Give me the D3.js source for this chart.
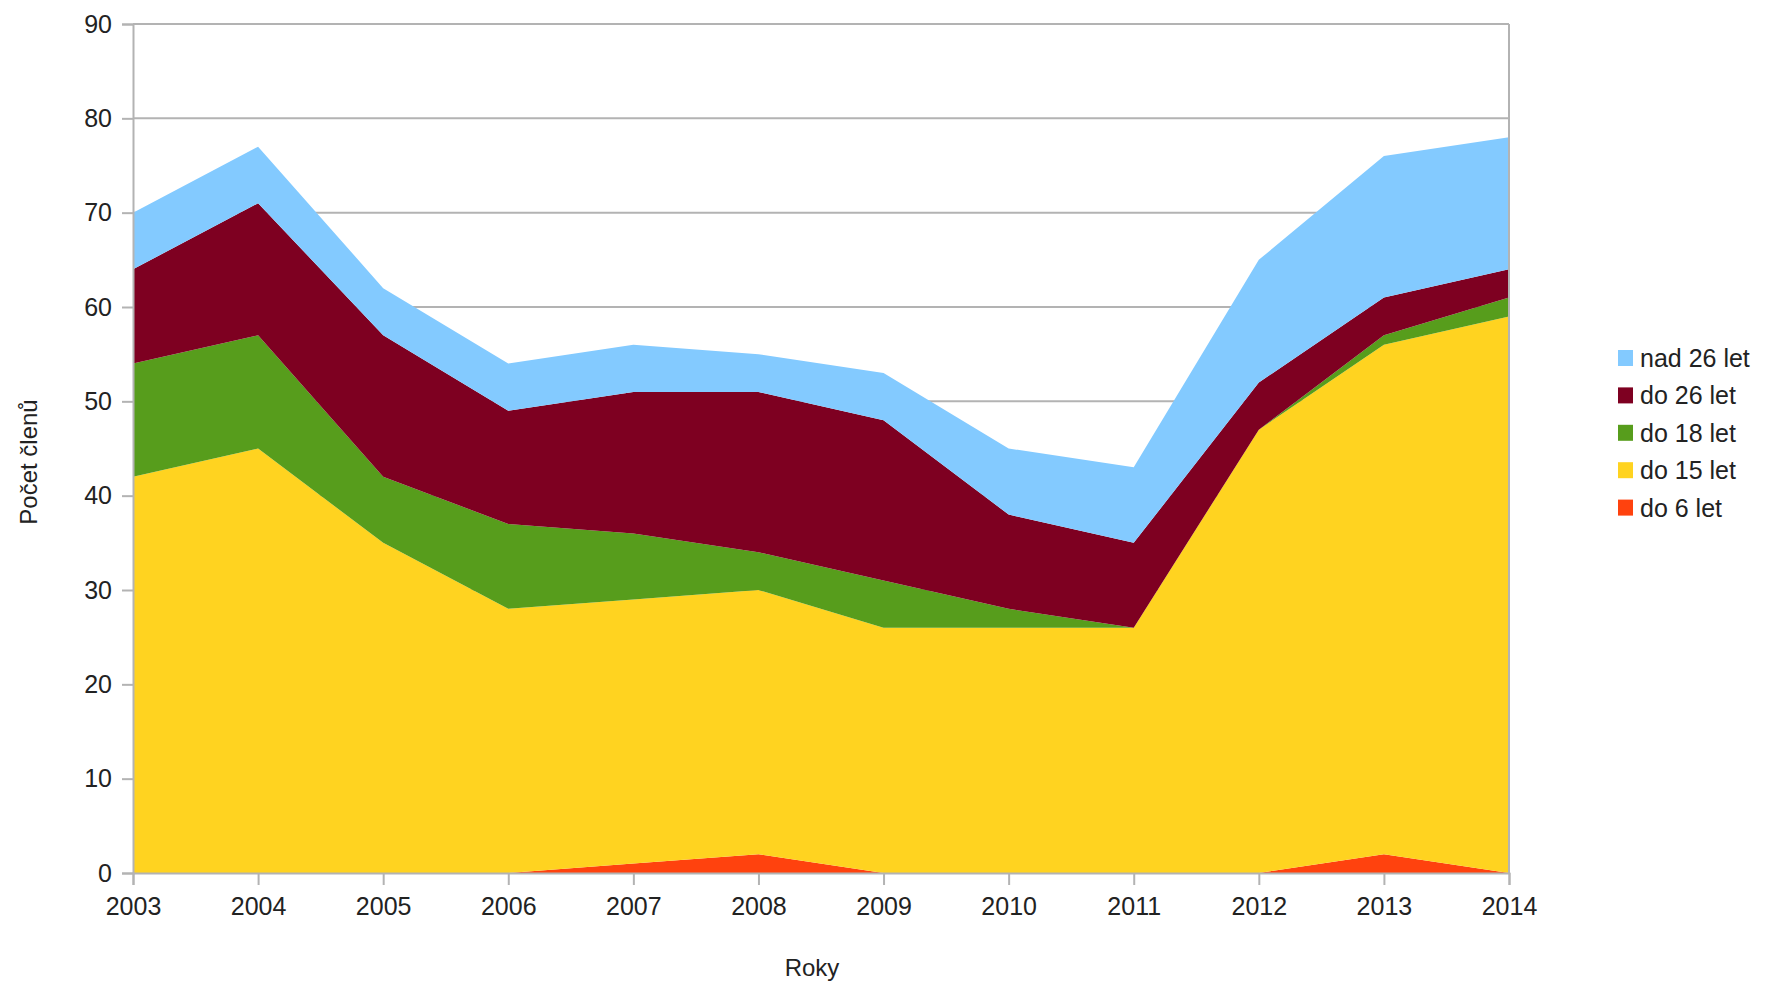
<!DOCTYPE html>
<html>
<head>
<meta charset="utf-8">
<script src="https://cdn.jsdelivr.net/npm/d3@7"></script>
<style>
  html, body { margin: 0; padding: 0; background: #fff; }
  svg { display: block; font-family: "Liberation Sans", Arial, sans-serif; }
</style>
</head>
<body>
<svg id="chart"></svg>
<script>
// ====== Data ======
const years = [2003, 2004, 2005, 2006, 2007, 2008, 2009, 2010, 2011, 2012, 2013, 2014];

// počty členů podle věkových skupin
const do6 = [0, 0, 0, 0, 1, 2, 0, 0, 0, 0, 2, 0];
const do15 = [42, 45, 35, 28, 28, 28, 26, 26, 26, 47, 54, 59];
const do18 = [12, 12, 7, 9, 7, 4, 5, 2, 0, 0, 1, 2];
const do26 = [10, 14, 15, 12, 15, 17, 17, 10, 9, 5, 4, 3];
const nad26 = [6, 6, 5, 5, 5, 4, 5, 7, 8, 13, 15, 14];

const seriesNames = ["do 6 let", "do 15 let", "do 18 let", "do 26 let", "nad 26 let"];
const seriesValues = [do6, do15, do18, do26, nad26];
const seriesColors = ["#ff420e", "#ffd320", "#579d1c", "#7e0021", "#83caff"];

const yTicks = [0, 10, 20, 30, 40, 50, 60, 70, 80, 90];

// ====== Layout ======
const width = 1771;
const height = 981;
const margin = { top: 24, right: 262, bottom: 108, left: 133 };

const svg = d3.select("#chart").attr("width", width).attr("height", height);

const x = d3.scaleLinear()
  .domain([years[0], years[years.length - 1]])
  .range([margin.left, width - margin.right]);

const y = d3.scaleLinear()
  .domain([0, 90])
  .range([height - margin.bottom, margin.top]);

// tabulka pro d3.stack
const table = years.map((yr, i) => {
  const row = { year: yr };
  seriesNames.forEach((n, k) => { row[n] = seriesValues[k][i]; });
  return row;
});

const stacked = d3.stack().keys(seriesNames)(table);

const gridColor = "#b3b3b3";

// mřížka
svg.append("g")
  .selectAll("line")
  .data(yTicks.filter(t => t > 0))
  .join("line")
  .attr("x1", margin.left)
  .attr("x2", width - margin.right)
  .attr("y1", d => y(d))
  .attr("y2", d => y(d))
  .attr("stroke", gridColor)
  .attr("stroke-width", 2);

// plochy
const area = d3.area()
  .x(d => x(d.data.year))
  .y0(d => y(d[0]))
  .y1(d => y(d[1]));

svg.append("g")
  .selectAll("path")
  .data(stacked)
  .join("path")
  .attr("fill", (d, i) => seriesColors[i])
  .attr("d", area);

// pravý okraj
svg.append("line")
  .attr("x1", width - margin.right).attr("x2", width - margin.right)
  .attr("y1", margin.top).attr("y2", height - margin.bottom)
  .attr("stroke", gridColor).attr("stroke-width", 2);

// osa Y
const yAxis = svg.append("g")
  .attr("transform", `translate(${margin.left},0)`)
  .call(d3.axisLeft(y).tickValues(yTicks).tickSize(11).tickPadding(10));

// osa X
const xAxis = svg.append("g")
  .attr("transform", `translate(0,${height - margin.bottom})`)
  .call(d3.axisBottom(x).tickValues(years).tickFormat(d3.format("d")).tickSize(12).tickPadding(12));

[yAxis, xAxis].forEach(ax => {
  ax.select(".domain").attr("stroke", gridColor).attr("stroke-width", 2);
  ax.selectAll(".tick line").attr("stroke", gridColor).attr("stroke-width", 2);
  ax.selectAll(".tick text")
    .attr("fill", "#222")
    .style("font-size", "25px")
    .style("font-family", "'Liberation Sans', Arial, sans-serif");
});

// popisky os
svg.append("text")
  .attr("x", 812)
  .attr("y", 976)
  .attr("text-anchor", "middle")
  .attr("fill", "#222")
  .style("font-size", "24px")
  .text("Roky");

svg.append("text")
  .attr("transform", `translate(37,462) rotate(-90)`)
  .attr("text-anchor", "middle")
  .attr("fill", "#222")
  .style("font-size", "24px")
  .text("Počet členů");

// legenda (v obráceném pořadí)
const legend = svg.append("g").attr("transform", "translate(1618,358)");
const legendItems = seriesNames.map((n, i) => ({ name: n, color: seriesColors[i] })).reverse();

const li = legend.selectAll("g")
  .data(legendItems)
  .join("g")
  .attr("transform", (d, i) => `translate(0,${i * 37.4})`);

li.append("rect")
  .attr("x", 0).attr("y", -8)
  .attr("width", 15).attr("height", 16)
  .attr("fill", d => d.color);

li.append("text")
  .attr("x", 22)
  .attr("y", 0)
  .attr("dy", "0.36em")
  .attr("fill", "#222")
  .style("font-size", "25px")
  .text(d => d.name);
</script>
</body>
</html>
